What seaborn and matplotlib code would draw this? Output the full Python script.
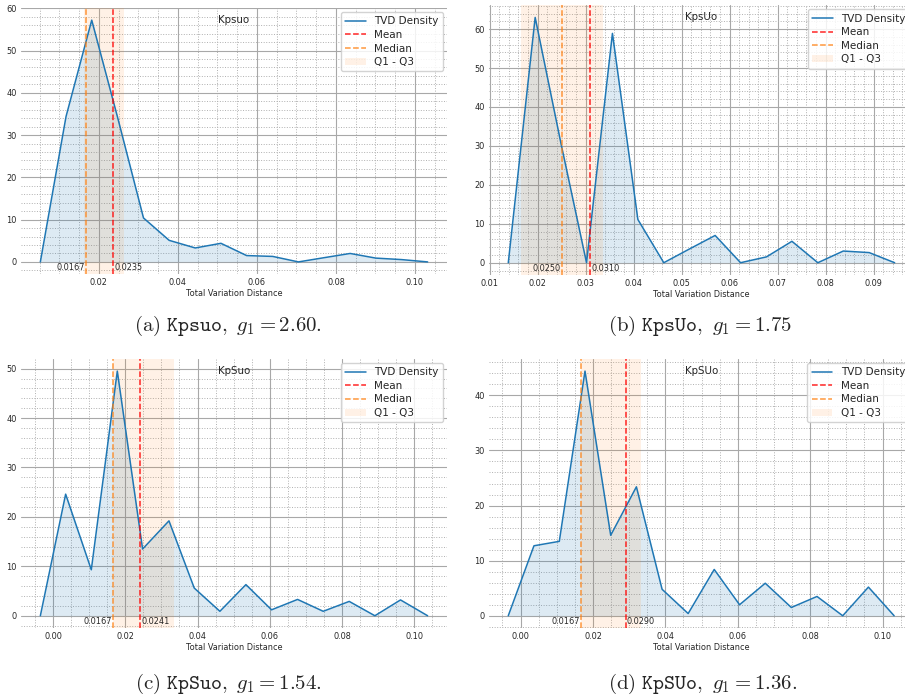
import numpy as np
import matplotlib
matplotlib.use("Agg")
import matplotlib.pyplot as plt
import seaborn as sns
from matplotlib.ticker import AutoMinorLocator

# --- datos ---
titles = ["Kpsuo", "KpsUo", "KpSuo", "KpSUo"]
captions = [r"$\mathrm{(a)}\ \mathtt{Kpsuo},\ g_1 = 2.60.$",
            r"$\mathrm{(b)}\ \mathtt{KpsUo},\ g_1 = 1.75$",
            r"$\mathrm{(c)}\ \mathtt{KpSuo},\ g_1 = 1.54.$",
            r"$\mathrm{(d)}\ \mathtt{KpSUo},\ g_1 = 1.36.$"]

x_a = [0.0052, 0.0117, 0.0182, 0.0248, 0.0313, 0.0378, 0.0444, 0.0509,
       0.0574, 0.0640, 0.0705, 0.0770, 0.0836, 0.0901, 0.0966, 0.1032]
y_a = [0, 34.4, 57.2, 34.0, 10.4, 5.1, 3.3, 4.4, 1.5, 1.3, 0, 1.0, 2.0, 0.9, 0.55, 0]

x_b = [0.0139, 0.0195, 0.0249, 0.0302, 0.0356, 0.0409, 0.0463, 0.0516,
       0.0570, 0.0623, 0.0677, 0.0730, 0.0784, 0.0837, 0.0891, 0.0944]
y_b = [0, 63.0, 30.5, 0, 58.9, 11.1, 0, 3.5, 7.0, 0, 1.5, 5.5, 0, 3.0, 2.6, 0]

x_c = [-0.0035, 0.0035, 0.0106, 0.0178, 0.0248, 0.0321, 0.0391, 0.0462,
       0.0534, 0.0605, 0.0677, 0.0748, 0.0820, 0.0891, 0.0962, 0.1037]
y_c = [0, 24.6, 9.3, 49.5, 13.5, 19.2, 5.6, 0.9, 6.3, 1.2, 3.3, 0.9, 2.9, 0, 3.2, 0]

x_d = [-0.0034, 0.0037, 0.0107, 0.0178, 0.0249, 0.0320, 0.0391, 0.0463,
       0.0535, 0.0605, 0.0676, 0.0748, 0.0819, 0.0890, 0.0961, 0.1032]
y_d = [0, 12.7, 13.5, 44.4, 14.6, 23.4, 4.8, 0.4, 8.4, 2.0, 5.9, 1.5, 3.5, 0, 5.2, 0]

means = [0.0235, 0.0310, 0.0241, 0.0290]
medians = [0.0167, 0.0250, 0.0167, 0.0167]
q1s = [0.0163, 0.0166, 0.0166, 0.0168]
q3s = [0.0264, 0.0336, 0.0335, 0.0334]

xs = [x_a, x_b, x_c, x_d]
ys = [y_a, y_b, y_c, y_d]

# posiciones de los paneles (fraccion de figura)
positions = [[0.0232, 0.608, 0.4707, 0.3805],
             [0.5403, 0.6066, 0.4696, 0.386],
             [0.0232, 0.1016, 0.4707, 0.385],
             [0.5403, 0.1016, 0.469, 0.385]]
caption_xy = [(0.252, 0.526), (0.773, 0.526), (0.252, 0.014), (0.776, 0.014)]

sns.set_style("white")
plt.rcParams["mathtext.fontset"] = "cm"

fig = plt.figure(figsize=(9.05, 6.99), dpi=100)

for i in range(4):
    ax = fig.add_axes(positions[i])
    sns.lineplot(x=xs[i], y=ys[i], ax=ax, color="C0", lw=1.1, label="TVD Density")
    ax.fill_between(xs[i], ys[i], color="C0", alpha=0.15, lw=0)
    ax.axvline(means[i], color="red", ls="--", lw=1.1, alpha=0.85, label="Mean")
    ax.axvline(medians[i], color="tab:orange", ls="--", lw=1.1, alpha=0.8, label="Median")
    ax.axvspan(q1s[i], q3s[i], color="tab:orange", alpha=0.1, lw=0, label="Q1 - Q3")

    ax.annotate(f"{medians[i]:.4f}", xy=(medians[i], 0), xytext=(-1, -1),
                textcoords="offset points", ha="right", va="top", fontsize=5.9)
    ax.annotate(f"{means[i]:.4f}", xy=(means[i], 0), xytext=(1, -1),
                textcoords="offset points", ha="left", va="top", fontsize=5.9)

    ax.xaxis.set_minor_locator(AutoMinorLocator())
    ax.yaxis.set_minor_locator(AutoMinorLocator())
    ax.grid(which="major", color="#a8a8a8", lw=0.8)
    ax.grid(which="minor", color="#b0b0b0", lw=0.7, ls=":")
    ax.set_axisbelow(True)
    ax.tick_params(which="both", length=0, labelsize=5.9, pad=3)
    for s in ax.spines.values():
        s.set_visible(False)

    ax.set_xlabel("Total Variation Distance", fontsize=5.9, labelpad=1)
    ax.set_ylabel("")
    ax.text(0.5, 0.975, titles[i], transform=ax.transAxes, ha="center", va="top",
            fontsize=7.4)
    ax.legend(loc="upper right", fontsize=7.5, labelspacing=0.35, borderaxespad=0.4,
              framealpha=0.85)

    fig.text(caption_xy[i][0], caption_xy[i][1], captions[i], ha="center",
             va="baseline", fontsize=15)

fig.savefig("out.png", dpi=100)
